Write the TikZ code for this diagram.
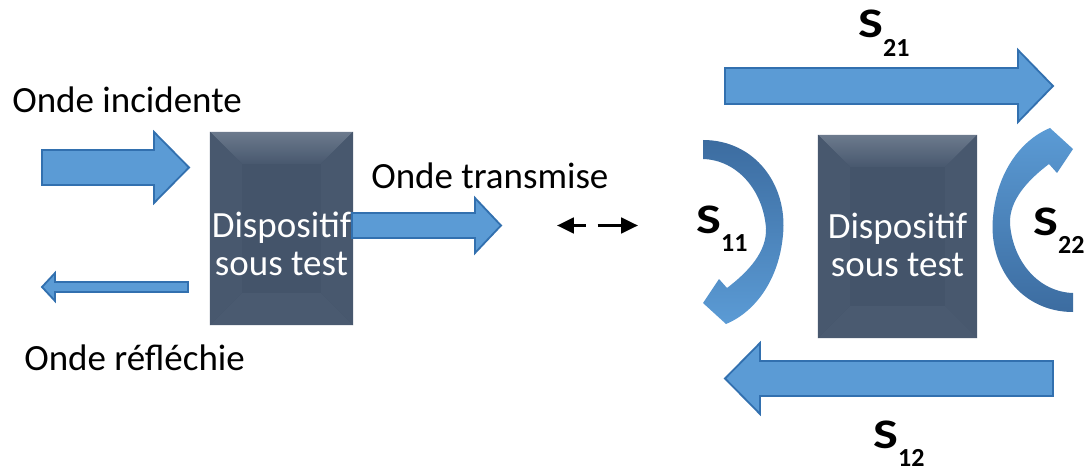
\documentclass[tikz,border=0pt]{standalone}
\usepackage{fontspec}
\setmainfont{Carlito}
\usetikzlibrary{arrows.meta}

\definecolor{arrowblue}{RGB}{91,155,213}
\definecolor{arrowedge}{RGB}{50,112,175}
\definecolor{curvedark}{RGB}{60,108,160}
\definecolor{dutgray}{RGB}{68,84,106}
\definecolor{duttop}{RGB}{108,122,141}
\definecolor{dutside}{RGB}{72,88,110}
\definecolor{dutbottom}{RGB}{74,90,112}

\newcommand{\bigtxt}{\fontsize{26.3}{27}\selectfont}
\newcommand{\sparam}[1]{\bfseries\fontsize{29.9}{30}\selectfont\scalebox{1.25}[1]{S}\fontsize{18.5}{19}\selectfont\raisebox{-13.5pt}{#1}}
% curved arrow (S11), the S22 one is the same turned round
\newcommand{\curvedarrow}{(703,140) .. controls (755,140) and (788,185) .. (783,235)
  .. controls (779,280) and (755,312) .. (726,324) -- (703,303) -- (719,279) -- (727,288)
  .. controls (748,272) and (767,252) .. (766,228) .. controls (763,190) and (737,160) .. (703,159) -- cycle}

\begin{document}
\begin{tikzpicture}[x=0.025cm,y=-0.025cm,>=stealth,
    txt/.style={inner sep=0pt,font=\bigtxt},
    blockarrow/.style={fill=arrowblue,draw=arrowedge,line width=1.3pt,line join=miter},
    dut/.style={fill=dutgray,inner sep=0pt,
      path picture={
        \path (path picture bounding box.north west) coordinate (nw)
              (path picture bounding box.north east) coordinate (ne)
              (path picture bounding box.south west) coordinate (sw)
              (path picture bounding box.south east) coordinate (se);
        \shade[top color=duttop,bottom color=dutside] (nw) -- (ne) -- ([shift={(-32,32)}]ne) -- ([shift={(32,32)}]nw) -- cycle;
        \fill[dutside] (nw) -- ([shift={(32,32)}]nw) -- ([shift={(32,-32)}]sw) -- (sw) -- cycle;
        \fill[dutside] (ne) -- ([shift={(-32,32)}]ne) -- ([shift={(-32,-32)}]se) -- (se) -- cycle;
        \fill[dutbottom] (sw) -- ([shift={(32,-32)}]sw) -- ([shift={(-32,-32)}]se) -- (se) -- cycle;
        \fill[dutgray] ([shift={(32,32)}]nw) rectangle ([shift={(-32,-32)}]se);
      }},
    dutlabel/.style={inner sep=0pt,text=white,align=center,font=\bigtxt}]
    \useasboundingbox (0,0) rectangle (1088,473);

    % left: one device with incident, reflected and transmitted waves
    \node[dut,minimum width=3.575cm,minimum height=4.825cm] (dutA) at (281.5,228.5) {};
    \node[dutlabel] (dutAtext) at (281.5,244) {Dispositif\\sous test};

    \draw[blockarrow] (42,150) -- (154,150) -- (154,132) -- (189,167.5) -- (154,203) -- (154,185) -- (42,185) -- cycle;
    \draw[blockarrow] (188,282) -- (55,282) -- (55,273) -- (42,287) -- (55,301) -- (55,292) -- (188,292) -- cycle;
    \draw[blockarrow] (352,213) -- (475,213) -- (475,198) -- (501,225.5) -- (475,253) -- (475,238) -- (352,238) -- cycle;

    \node[txt,anchor=base west] (inc) at (12,113) {Onde incidente};
    \node[txt,anchor=base west] (refl) at (24,370) {Onde réfléchie};
    \node[txt,anchor=base west] (trans) at (371,188) {Onde transmise};

    % dashed link between both halves
    \coordinate (gapL) at (557,225.5);
    \coordinate (gapR) at (638,225.5);
    \draw[{Triangle[length=12pt,width=11pt]}-{Triangle[length=12pt,width=11pt]},
      line width=2.3pt,dash pattern=on 9pt off 8.5pt on 30pt] (gapL) -- (gapR);

    % right: the S parameters
    \node[dut,minimum width=3.975cm,minimum height=5.075cm] (dutB) at (897.5,236.5) {};
    \node[dutlabel] (dutBtext) at (897.5,245) {Dispositif\\sous test};

    \draw[blockarrow] (725,68) -- (1018,68) -- (1018,50) -- (1053,86) -- (1018,122) -- (1018,104) -- (725,104) -- cycle;
    \draw[blockarrow] (1053,361) -- (760,361) -- (760,343) -- (725,378.5) -- (760,414) -- (760,396) -- (1053,396) -- cycle;

    \shade[top color=curvedark,bottom color=arrowblue] \curvedarrow;
    \begin{scope}[rotate around={180:(888,226)}]
      \shade[top color=arrowblue,bottom color=curvedark] \curvedarrow;
    \end{scope}

    \node[anchor=base west,inner sep=0pt] (s21) at (858,38) {\sparam{21}};
    \node[anchor=base west,inner sep=0pt] (s11) at (696,233) {\sparam{11}};
    \node[anchor=base west,inner sep=0pt] (s22) at (1033,235) {\sparam{22}};
    \node[anchor=base west,inner sep=0pt] (s12) at (873,448) {\sparam{12}};
\end{tikzpicture}
\end{document}
